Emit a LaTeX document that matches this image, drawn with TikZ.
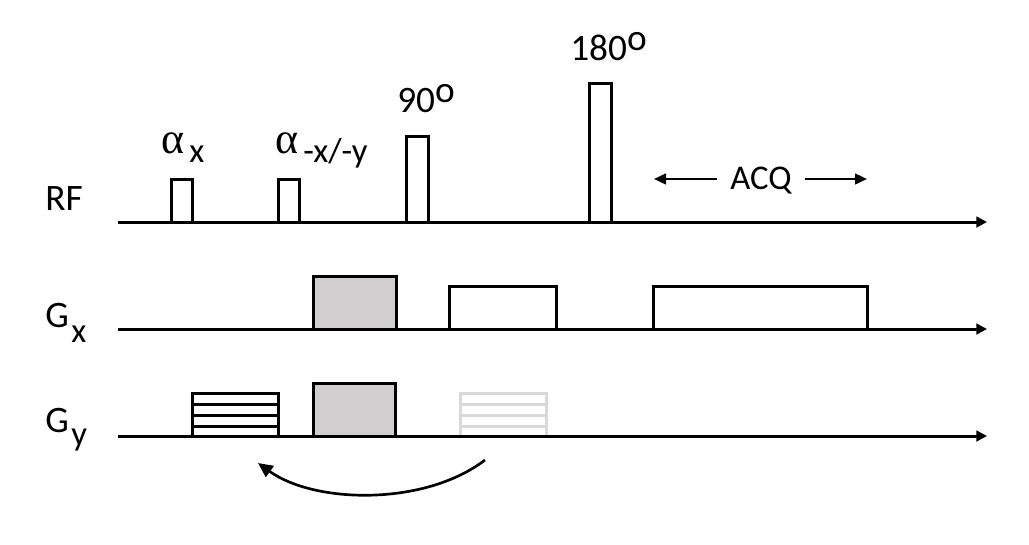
\documentclass[tikz,border=0pt]{standalone}
\usepackage{fontspec}
\setmainfont{Carlito}
\newfontfamily\alphafont{Liberation Serif}
\usepackage{xcolor}
\usetikzlibrary{arrows.meta}
\definecolor{gradfill}{HTML}{D0CECE}
\definecolor{ghostline}{HTML}{D9D9D9}
\newcommand{\degmark}{\raisebox{7.5pt}{o}}
\tikzset{
  seqline/.style={line width=2.25pt},
  axisline/.style={seqline,-{Triangle[length=8pt,width=8pt]}},
  thinarrow/.style={line width=1.8pt,-{Triangle[length=9pt,width=8pt]}},
  seqlabel/.style={font=\fontsize{28}{32}\selectfont,inner sep=0pt,anchor=base west},
  sublabel/.style={seqlabel,font=\fontsize{26}{30}\selectfont},
  alphalabel/.style={seqlabel,font=\alphafont\fontsize{33}{36}\selectfont},
}
\begin{document}
\begin{tikzpicture}[x=0.75pt,y=-0.75pt]
  \useasboundingbox (0,0) rectangle (1029,544);
  % rf pulses
  \foreach \xa/\xb/\top in {171/192/179, 278/299/179, 406/428/136, 589/611/83}
     { \draw[seqline] (\xa,222) -- (\xa,\top) -- (\xb,\top) -- (\xb,222); }
  % gradient lobes
  \draw[seqline,fill=gradfill] (313,329) rectangle (396,276);
  \draw[seqline] (449,329) -- (449,286) -- (556,286) -- (556,329);
  \draw[seqline] (653,329) -- (653,286) -- (867,286) -- (867,329);
  \draw[seqline,fill=gradfill] (313,436) rectangle (395,383);
  % phase encode tables
  \draw[seqline,ghostline] (460,435) -- (460,393) -- (546,393) -- (546,435);
  \draw[seqline] (192,436) -- (192,393) -- (278,393) -- (278,436);
  \foreach \y in {404,415,426}
     { \draw[seqline,ghostline] (460,\y) -- (546,\y);
       \draw[seqline] (192,\y) -- (278,\y); }
  % time axes, one per channel
  \foreach \name/\y in {rf/222, gx/329, gy/436}
     { \coordinate (\name start) at (118,\y);
       \coordinate (\name end) at (987,\y);
       \draw[axisline] (\name start) -- (\name end); }
  % labels
  \node[seqlabel] (rflabel) at (45,210) {RF};
  \node[seqlabel] (gxlabel) at (45,327) {G};
  \node[sublabel] (gxsub) at (71,342) {x};
  \node[seqlabel] (gylabel) at (45,432) {G};
  \node[sublabel] (gysub) at (71,445) {y};
  \node[alphalabel] (alphax) at (161,153) {α};
  \node[sublabel] (xlabel) at (189,162) {x};
  \node[alphalabel] (alphaxy) at (275,153) {α};
  \node[sublabel] (xylabel) at (303,162) {-x/-y};
  \node[seqlabel] (ninety) at (397,112) {90\degmark};
  \node[seqlabel] (oneeighty) at (570,60) {180\degmark};
  \node[sublabel,anchor=center] (acq) at (761,181) {ACQ};
  % acquisition window and reordering arrow
  \coordinate (acqleft) at (654,179);
  \coordinate (acqright) at (867,179);
  \draw[thinarrow] (717,179) -- (acqleft);
  \draw[thinarrow] (805,179) -- (acqright);
  \coordinate (swapfrom) at (485,460);
  \coordinate (swapto) at (258,463);
  \draw[line width=2pt,-{Triangle[length=11pt,width=10pt]}] (swapfrom) .. controls (425,506) and (315,504) .. (swapto);
\end{tikzpicture}
\end{document}
